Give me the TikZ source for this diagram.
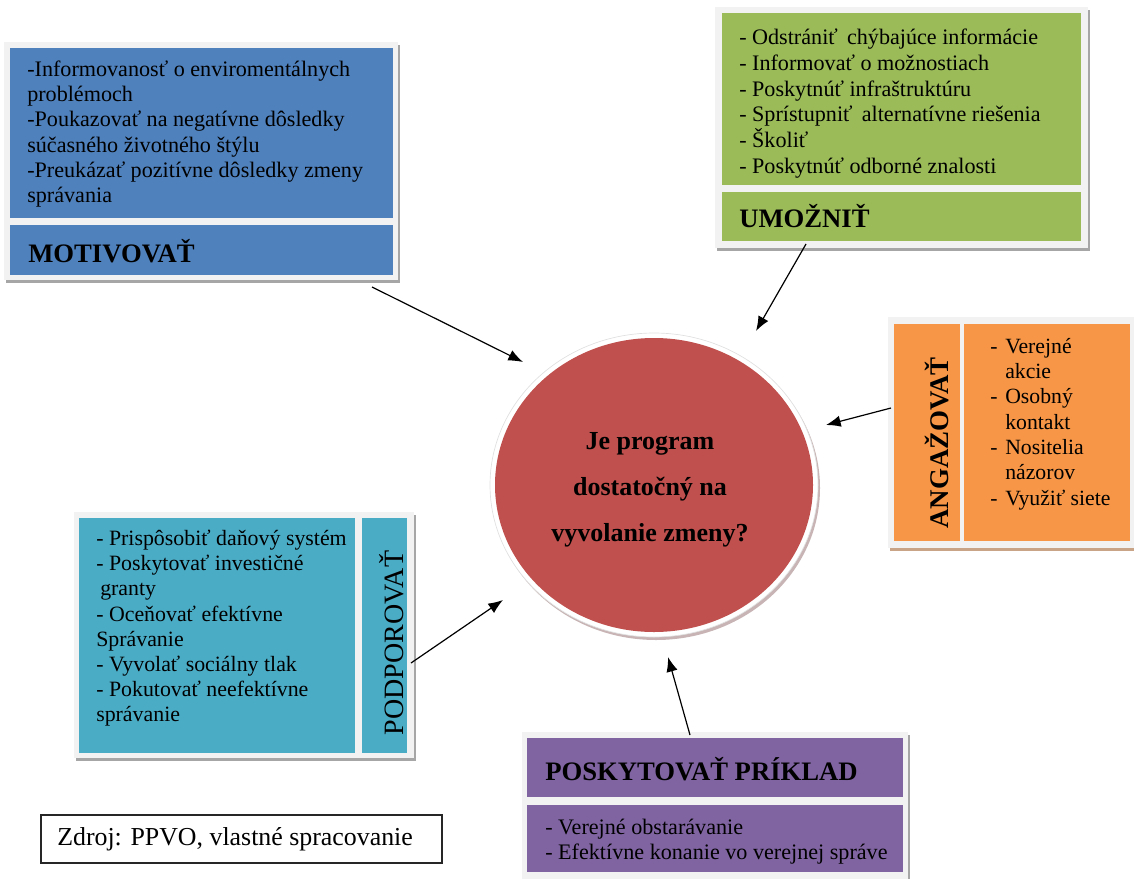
\documentclass[tikz,border=0pt]{standalone}
\usepackage{fontspec}
\setmainfont{Liberation Serif}
\usetikzlibrary{arrows.meta}
\definecolor{cblue}{HTML}{4F81BD}
\definecolor{cgreen}{HTML}{9BBB59}
\definecolor{corange}{HTML}{F79646}
\definecolor{cteal}{HTML}{4BACC6}
\definecolor{cpurple}{HTML}{8064A2}
\definecolor{cred}{HTML}{C0504D}
\definecolor{framec}{HTML}{F2F2F2}
\definecolor{shadowc}{HTML}{A6A6A6}
\definecolor{oshadow}{HTML}{C9A486}
\definecolor{rshadow}{HTML}{C8B4B4}
\tikzset{
  body/.style={inner sep=0pt, align=left, anchor=north west, font=\fontsize{16.6}{19}\selectfont},
  title/.style={inner sep=0pt, anchor=base west, font=\bfseries\fontsize{20}{24}\selectfont},
  arr/.style={line width=0.9pt, -{Latex[length=11pt,width=8.5pt]}},
}
\begin{document}
\begin{tikzpicture}[x=0.75pt,y=-0.75pt]
\useasboundingbox (0,0) rectangle (1134,878);

% ---------- MOTIVOVAT (blue)
\fill[shadowc] (6,45) rectangle (400,283);
\fill[framec] (4,42) rectangle (398,280);
\fill[cblue] (10,48) rectangle (393,218);
\fill[cblue] (10,225) rectangle (393,275);
\node[body] (motT) at (27,58) {\strut-Informovanosť o enviromentálnych\\problémoch\\-Poukazovať na negatívne dôsledky\\súčasného životného štýlu\\-Preukázať pozitívne dôsledky zmeny\\správania};
\node[title] (motH) at (28,262) {MOTIVOVAŤ};

% ---------- UMOZNIT (green)
\fill[shadowc] (717,10) rectangle (1090,251);
\fill[framec] (715,7) rectangle (1088,248);
\fill[cgreen] (722,13) rectangle (1081,185);
\fill[cgreen] (722,192) rectangle (1081,241);
\node[body, font=\fontsize{16.6}{19.4}\selectfont] (umoT) at (739,26) {\strut- Odstrániť\, chýbajúce informácie\\- Informovať o možnostiach\\- Poskytnúť infraštruktúru\\- Sprístupniť\, alternatívne riešenia\\- Školiť\\- Poskytnúť odborné znalosti};
\node[title] (umoH) at (739,227) {UMOŽNIŤ};

% ---------- ANGAZOVAT (orange)
\fill[oshadow] (890,320) rectangle (1136,551);
\fill[framec] (888,317) rectangle (1136,548);
\fill[corange] (894,324) rectangle (960,541);
\fill[corange] (964,324) rectangle (1130,541);
\node[inner sep=0pt, anchor=base, rotate=90, font=\bfseries\fontsize{20.2}{24}\selectfont] (angH) at (948,443) {ANGAŽOVAŤ};
\node[body, font=\fontsize{16.3}{19}\selectfont] (angT) at (990,335) {\strut\makebox[11.25pt][l]{-}Verejné\\\hspace*{11.25pt}akcie\\\makebox[11.25pt][l]{-}Osobný\\\hspace*{11.25pt}kontakt\\\makebox[11.25pt][l]{-}Nositelia\\\hspace*{11.25pt}názorov\\\makebox[11.25pt][l]{-}Využiť siete};

% ---------- PODPOROVAT (teal)
\fill[shadowc] (76,515) rectangle (416,761);
\fill[framec] (74,512) rectangle (414,758);
\fill[cteal] (79,518) rectangle (355,753);
\fill[cteal] (362,518) rectangle (407,753);
\node[body, font=\fontsize{16.4}{18.8}\selectfont] (podT) at (96,528) {\strut- Prispôsobiť daňový systém\\- Poskytovať investičné\\\hspace*{3pt}granty\\- Oceňovať efektívne\\Správanie\\- Vyvolať sociálny tlak\\- Pokutovať neefektívne\\správanie};
\node[inner sep=0pt, anchor=base, rotate=90, font=\fontsize{21}{24}\selectfont] (podH) at (403,643) {PODPOROVAŤ};

% ---------- POSKYTOVAT PRIKLAD (purple)
\fill[shadowc] (524,735) rectangle (910,881);
\fill[framec] (522,732) rectangle (908,880);
\fill[cpurple] (527,738) rectangle (903,797);
\fill[cpurple] (527,805) rectangle (903,872);
\node[title] (priH) at (545,780) {POSKYTOVAŤ PRÍKLAD};
\node[body] (priT) at (545,816) {\strut- Verejné obstarávanie\\- Efektívne konanie vo verejnej správe};

% ---------- central circle
\fill[rshadow] (656,488) ellipse [x radius=164, y radius=152];
\fill[white] (654,485) ellipse [x radius=164, y radius=152];
\draw[black!12, line width=0.5pt] (654,485) ellipse [x radius=164, y radius=152];
\fill[cred] (654,485) ellipse [x radius=159, y radius=147];
\node[inner sep=0pt, anchor=north, align=center, font=\bfseries\fontsize{19.5}{34.5}\selectfont] (q) at (650,417) {\strut Je program\\dostatočný na\\vyvolanie zmeny?};

% ---------- source box
\node[draw=black!85, line width=1.1pt, minimum width=300.75pt, minimum height=36pt, inner sep=0pt] (src) at (241.5,839) {};
\node[inner sep=0pt, anchor=base west, font=\fontsize{19.4}{22}\selectfont] (srcT) at (57,845) {Zdroj: PPVO, vlastné spracovanie};

% ---------- arrows
\coordinate (a1) at (372,287); \coordinate (b1) at (523,362);
\coordinate (a2) at (806,244); \coordinate (b2) at (756,331);
\coordinate (a3) at (891,408); \coordinate (b3) at (826,425);
\coordinate (a4) at (411,663); \coordinate (b4) at (503,600);
\coordinate (a5) at (690,735); \coordinate (b5) at (668,657);
\draw[arr] (a1) -- (b1);
\draw[arr] (a2) -- (b2);
\draw[arr] (a3) -- (b3);
\draw[arr] (a4) -- (b4);
\draw[arr] (a5) -- (b5);
\end{tikzpicture}
\end{document}
